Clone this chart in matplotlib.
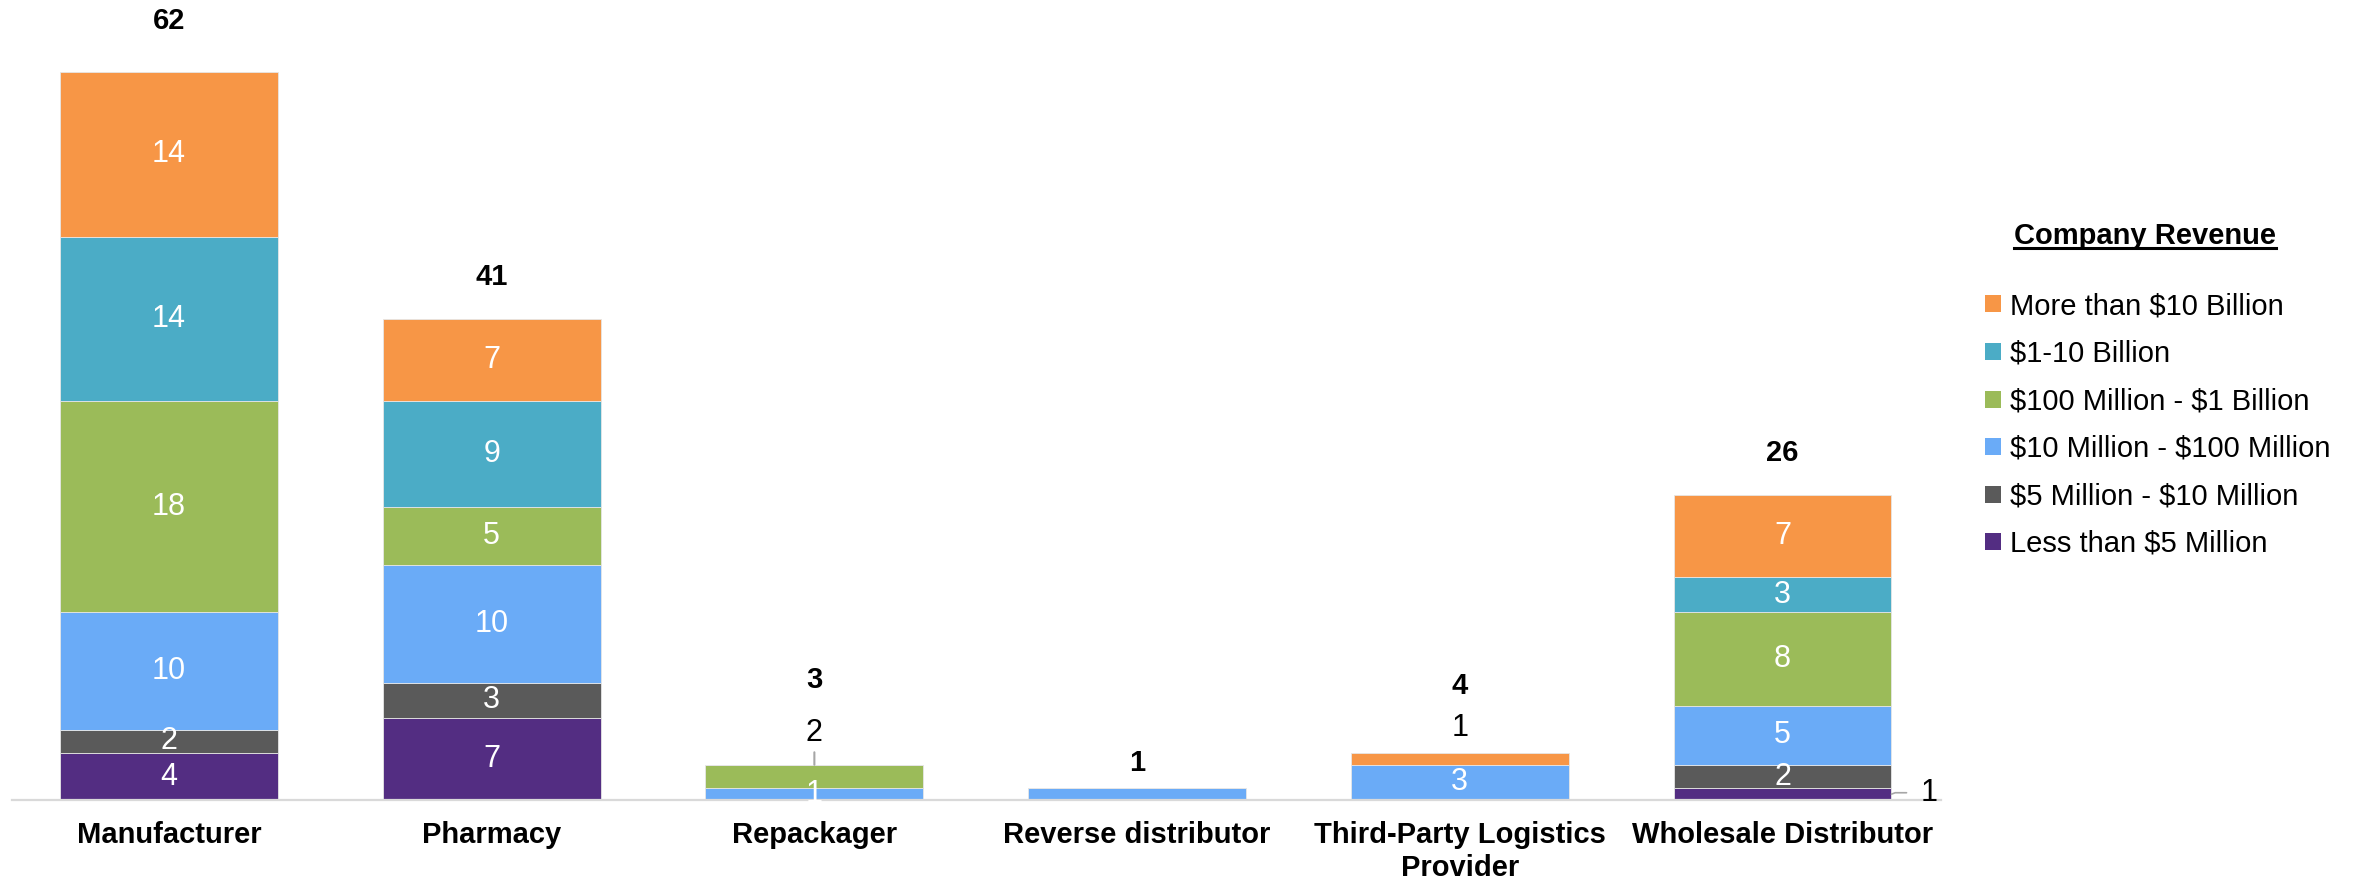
import matplotlib.pyplot as plt
import numpy as np
from matplotlib.patches import Patch
from matplotlib.lines import Line2D

plt.rcParams['font.family'] = ['Liberation Sans', 'DejaVu Sans']
plt.rcParams['text.parse_math'] = False

categories = ['Manufacturer', 'Pharmacy', 'Repackager', 'Reverse distributor',
              'Third-Party Logistics\nProvider', 'Wholesale Distributor']
bands = ['Less than $5 Million', '$5 Million - $10 Million',
         '$10 Million - $100 Million', '$100 Million - $1 Billion',
         '$1-10 Billion', 'More than $10 Billion']
less_5m = [4, 7, 0, 0, 0, 1]
m5_10m = [2, 3, 0, 0, 0, 2]
m10_100m = [10, 10, 1, 1, 3, 5]
m100_1b = [18, 5, 2, 0, 0, 8]
b1_10b = [14, 9, 0, 0, 0, 3]
over_10b = [14, 7, 0, 0, 1, 7]
colors = ['#532D82', '#5A5A5A', '#6AABF7', '#9BBB59', '#4BACC6', '#F79646']

series = [less_5m, m5_10m, m10_100m, m100_1b, b1_10b, over_10b]
totals = np.sum(series, axis=0)

# gap (points) between bar top and the bold total
total_pad = [37, 30, 61, 18, 48, 30]
# segments whose label sits outside the bar: (category, band) -> style
outside = {(2, 3): 'above_line', (4, 5): 'above', (5, 0): 'right_line'}
hidden = {(3, 2)}

fig = plt.figure(figsize=(23.58, 8.83), dpi=100)
ax = fig.add_axes([0.005, 0.094, 0.818, 0.904])

x = np.arange(len(categories))
width = 0.675
bottom = np.zeros(len(categories))
for b, (vals, col) in enumerate(zip(series, colors)):
    vals = np.array(vals)
    ax.bar(x, vals, width, bottom=bottom, color=col, edgecolor='#e6e6e6',
           linewidth=0.6, label=bands[b])
    for i, v in enumerate(vals):
        if v == 0 or (i, b) in hidden:
            continue
        mid = bottom[i] + v / 2
        top = bottom[i] + v
        style = outside.get((i, b))
        if style == 'above_line':
            ax.annotate(str(v), xy=(i, top), xytext=(0, 23), textcoords='offset points',
                        ha='center', va='center', fontsize=22, color='black')
            ax.annotate('', xy=(i, top), xytext=(0, 9), textcoords='offset points',
                        arrowprops=dict(arrowstyle='-', color='#a6a6a6', lw=1.5,
                                        shrinkA=0, shrinkB=0))
        elif style == 'above':
            ax.annotate(str(v), xy=(i, top), xytext=(0, 18), textcoords='offset points',
                        ha='center', va='center', fontsize=22, color='black')
        elif style == 'right_line':
            ax.annotate(str(v), xy=(i + width / 2, mid), xytext=(27, 1),
                        textcoords='offset points', ha='center', va='center',
                        fontsize=22, color='black',
                        arrowprops=dict(arrowstyle='-', color='#a6a6a6', lw=1.2,
                                        shrinkA=8, shrinkB=0,
                                        connectionstyle='angle,angleA=0,angleB=20,rad=0'))
        else:
            ax.text(i, mid, str(v), ha='center', va='center', fontsize=22,
                    color='white')
    bottom += vals

for i, t in enumerate(totals):
    ax.annotate(str(t), xy=(i, t), xytext=(0, total_pad[i]), textcoords='offset points',
                ha='center', va='center', fontsize=21, fontweight='bold')

ax.set_xlim(-0.487, 5.49)
ax.set_ylim(0, 68)
ax.set_yticks([])
ax.set_xticks(x)
ax.set_xticklabels(categories, fontsize=21, fontweight='bold', linespacing=1.22)
ax.tick_params(axis='x', length=0, pad=15)
for s in ['top', 'right', 'left']:
    ax.spines[s].set_visible(False)
ax.spines['bottom'].set_color('#d9d9d9')
ax.spines['bottom'].set_linewidth(1.6)

handles = [Patch(facecolor=c, label=l) for c, l in zip(colors, bands)][::-1]
fig.legend(handles=handles, loc='upper left', bbox_to_anchor=(0.842, 0.669),
           frameon=False, fontsize=21, handlelength=0.52, handleheight=0.52,
           handletextpad=0.33, labelspacing=0.67, borderpad=0, borderaxespad=0)

title = fig.text(2145 / 2358, 1 - 236 / 883, 'Company Revenue', ha='center',
                 va='center', fontsize=21, fontweight='bold')
fig.canvas.draw()
bb = title.get_window_extent().transformed(fig.transFigure.inverted())
fig.add_artist(Line2D([bb.x0, bb.x1], [bb.y0 + 0.002, bb.y0 + 0.002],
                      color='black', lw=2.2, transform=fig.transFigure))

fig.savefig('out.png', dpi=100)
